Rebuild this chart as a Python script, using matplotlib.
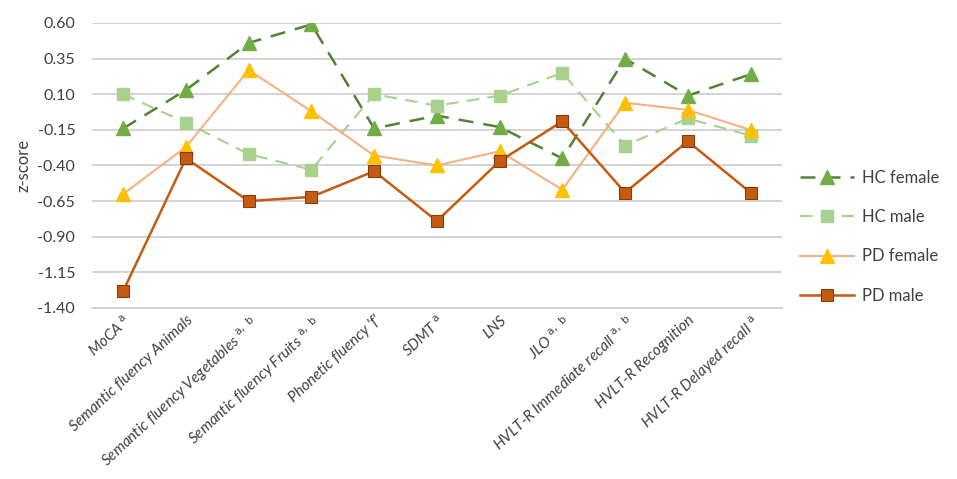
import numpy as np
import matplotlib.pyplot as plt

# tests on the x axis, with the significance superscripts
tests = ['MoCA', 'Semantic fluency Animals', 'Semantic fluency Vegetables',
         'Semantic fluency Fruits', "Phonetic fluency 'f'", 'SDMT', 'LNS', 'JLO',
         'HVLT-R Immediate recall', 'HVLT-R Recognition', 'HVLT-R Delayed recall']
marks = ['a', '', 'a, b', 'a, b', '', 'a', '', 'a, b', 'a, b', '', 'a']

# z-scores
hc_female = [-0.14, 0.13, 0.46, 0.59, -0.14, -0.05, -0.13, -0.35, 0.35, 0.09, 0.24]
hc_male = [0.10, -0.10, -0.32, -0.43, 0.10, 0.02, 0.09, 0.25, -0.26, -0.07, -0.19]
pd_female = [-0.60, -0.27, 0.27, -0.02, -0.33, -0.40, -0.30, -0.57, 0.04, -0.01, -0.15]
pd_male = [-1.28, -0.35, -0.65, -0.62, -0.44, -0.79, -0.37, -0.09, -0.59, -0.23, -0.59]

plt.rcParams['font.family'] = ['Lato', 'DejaVu Sans']

fig = plt.figure(figsize=(9.57, 4.79), dpi=100)
ax = fig.add_axes([0.096, 0.357, 0.721, 0.595])

x = np.arange(len(tests))
ax.plot(x, hc_female, color='#548235', ls=(0, (6, 4)), lw=1.8, marker='^',
        ms=10, mfc='#70AD47', mec='#70AD47', label='HC female', zorder=3)
ax.plot(x, hc_male, color='#A9D18E', ls=(0, (6, 4)), lw=1.5, marker='s',
        ms=9, mfc='#A9D18E', mec='#A9D18E', label='HC male', zorder=3)
ax.plot(x, pd_female, color='#F4B183', ls='-', lw=1.5, marker='^',
        ms=10, mfc='#FFC000', mec='#FFC000', label='PD female', zorder=3)
ax.plot(x, pd_male, color='#C55A11', ls='-', lw=1.8, marker='s',
        ms=9, mfc='#C55A11', mec='#843C0C', mew=0.8, label='PD male', zorder=4)

ax.set_xlim(-0.5, len(tests) - 0.5)
ax.set_ylim(-1.40, 0.60)
ax.set_yticks(np.arange(-1.40, 0.61, 0.25))
ax.yaxis.set_major_formatter(plt.FormatStrFormatter('%.2f'))
ax.grid(axis='y', color='#D0D0D0', lw=1.3)
ax.set_axisbelow(True)
for s in ['top', 'right', 'left']:
    ax.spines[s].set_visible(False)
ax.spines['bottom'].set_color('#D0D0D0')
ax.spines['bottom'].set_linewidth(1.3)
ax.tick_params(length=0, labelsize=11.5, colors='#404040')
ax.tick_params(axis='y', pad=12)

labels = []
for t, m in zip(tests, marks):
    if m:
        labels.append(t + r' $^{\mathrm{' + m.replace(' ', r'\ ') + '}}$')
    else:
        labels.append(t)
ax.set_xticks(x)
ax.set_xticklabels(labels, rotation=43, ha='right', rotation_mode='anchor',
                   style='italic', fontsize=11, color='#404040')

ax.set_ylabel('z-score', fontsize=12, color='#404040', labelpad=4)

leg = ax.legend(loc='center left', bbox_to_anchor=(1.005, 0.25), frameon=False,
                fontsize=12, labelspacing=1.4, handlelength=3.2,
                handletextpad=0.5)
for t in leg.get_texts():
    t.set_color('#404040')

fig.savefig('out.png', dpi=100)
